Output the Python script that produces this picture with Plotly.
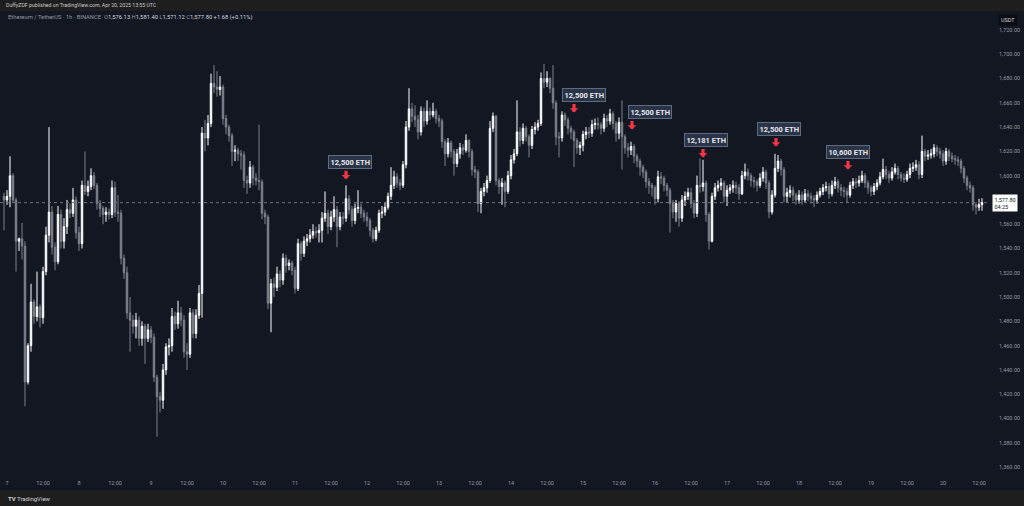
import pandas as pd
import plotly.graph_objects as go

# ---------------- data ----------------
first_open = 1583
# hourly closes, 2025-04-06 23:00 ... 2025-04-20 13:00 (UTC)
close = [1580,
    1583, 1600, 1580, 1546, 1548, 1542, 1430, 1460, 1496, 1484, 1492, 1483, 1521, 1551, 1570, 1541, 1529, 1568, 1546, 1558, 1572, 1569, 1580, 1553,
    1544, 1592, 1587, 1591, 1600, 1592, 1577, 1573, 1568, 1570, 1568, 1590, 1570, 1569, 1532, 1520, 1487, 1481, 1476, 1481, 1466, 1476, 1466, 1473,
    1467, 1434, 1418, 1415, 1440, 1459, 1460, 1484, 1478, 1487, 1481, 1455, 1453, 1487, 1470, 1485, 1503, 1635, 1631, 1643, 1676, 1673, 1671, 1673,
    1647, 1640, 1633, 1620, 1621, 1618, 1617, 1596, 1594, 1607, 1598, 1596, 1595, 1569, 1566, 1495, 1511, 1508, 1519, 1514, 1532, 1526, 1528, 1522,
    1507, 1544, 1536, 1546, 1548, 1551, 1554, 1553, 1555, 1565, 1569, 1558, 1566, 1572, 1558, 1566, 1565, 1581, 1572, 1563, 1573, 1574, 1569, 1566,
    1563, 1555, 1548, 1555, 1569, 1570, 1574, 1583, 1592, 1599, 1594, 1592, 1609, 1640, 1655, 1649, 1646, 1636, 1653, 1645, 1653, 1650, 1653, 1647,
    1645, 1628, 1618, 1627, 1620, 1610, 1618, 1623, 1621, 1629, 1620, 1605, 1603, 1577, 1587, 1590, 1596, 1639, 1649, 1596, 1591, 1594, 1587, 1600,
    1613, 1618, 1636, 1629, 1639, 1632, 1625, 1638, 1640, 1643, 1680, 1677, 1680, 1672, 1660, 1632, 1631, 1650, 1646, 1639, 1636, 1629, 1623, 1625,
    1634, 1636, 1635, 1642, 1643, 1642, 1639, 1647, 1645, 1651, 1643, 1635, 1644, 1632, 1623, 1621, 1624, 1616, 1612, 1607, 1603, 1595, 1592, 1590,
    1581, 1599, 1598, 1592, 1588, 1577, 1570, 1577, 1565, 1580, 1583, 1586, 1577, 1569, 1592, 1591, 1594, 1568, 1546, 1583, 1590, 1592, 1594, 1583,
    1588, 1590, 1592, 1590, 1585, 1600, 1603, 1600, 1596, 1595, 1592, 1598, 1603, 1594, 1570, 1584, 1606, 1612, 1605, 1583, 1586, 1588, 1584, 1580,
    1584, 1580, 1585, 1583, 1581, 1580, 1584, 1587, 1590, 1591, 1585, 1592, 1595, 1590, 1588, 1587, 1584, 1592, 1595, 1594, 1596, 1600, 1594, 1590,
    1587, 1591, 1594, 1599, 1605, 1601, 1598, 1603, 1606, 1601, 1598, 1597, 1601, 1606, 1607, 1609, 1601, 1620, 1616, 1617, 1618, 1623, 1620, 1618,
    1612, 1620, 1616, 1614, 1613, 1612, 1606, 1598, 1592, 1590, 1576, 1574, 1576.13, 1577.80]

high = [1586,
    1588, 1616, 1602, 1582, 1549, 1561, 1546, 1462, 1511, 1498, 1521, 1494, 1525, 1558, 1640, 1575, 1545, 1575, 1572, 1565, 1580, 1577, 1590, 1583,
    1558, 1596, 1620, 1596, 1606, 1603, 1594, 1580, 1575, 1574, 1573, 1596, 1595, 1584, 1572, 1535, 1525, 1500, 1485, 1487, 1484, 1480, 1478, 1478,
    1476, 1470, 1436, 1422, 1445, 1462, 1466, 1491, 1488, 1497, 1492, 1485, 1462, 1491, 1490, 1490, 1510, 1640, 1646, 1650, 1684, 1691, 1686, 1682,
    1675, 1650, 1642, 1635, 1625, 1623, 1621, 1620, 1600, 1612, 1609, 1602, 1642, 1597, 1572, 1568, 1515, 1516, 1525, 1522, 1536, 1535, 1531, 1530,
    1525, 1548, 1546, 1550, 1552, 1556, 1560, 1558, 1560, 1570, 1587, 1572, 1571, 1583, 1575, 1570, 1570, 1592, 1584, 1575, 1577, 1588, 1577, 1572,
    1570, 1565, 1557, 1558, 1572, 1575, 1578, 1586, 1607, 1604, 1602, 1597, 1612, 1645, 1672, 1660, 1658, 1650, 1657, 1656, 1662, 1656, 1660, 1655,
    1650, 1647, 1630, 1631, 1629, 1622, 1622, 1627, 1626, 1634, 1630, 1622, 1608, 1605, 1590, 1594, 1600, 1645, 1652, 1650, 1598, 1598, 1596, 1604,
    1617, 1622, 1662, 1640, 1643, 1641, 1634, 1641, 1644, 1646, 1685, 1692, 1686, 1681, 1691, 1662, 1636, 1653, 1652, 1648, 1641, 1638, 1631, 1628,
    1637, 1640, 1640, 1646, 1647, 1648, 1644, 1651, 1650, 1655, 1653, 1645, 1648, 1662, 1634, 1627, 1628, 1626, 1618, 1614, 1609, 1605, 1598, 1594,
    1592, 1604, 1603, 1600, 1594, 1590, 1580, 1580, 1579, 1584, 1587, 1590, 1590, 1580, 1600, 1614, 1613, 1596, 1570, 1586, 1594, 1596, 1598, 1596,
    1592, 1593, 1596, 1595, 1593, 1604, 1610, 1606, 1602, 1599, 1597, 1602, 1607, 1605, 1596, 1588, 1618, 1617, 1614, 1607, 1590, 1592, 1591, 1586,
    1588, 1587, 1589, 1588, 1586, 1584, 1587, 1590, 1593, 1595, 1594, 1596, 1599, 1597, 1593, 1591, 1590, 1595, 1598, 1598, 1600, 1604, 1602, 1596,
    1592, 1594, 1597, 1603, 1614, 1608, 1604, 1607, 1610, 1608, 1603, 1602, 1604, 1610, 1611, 1613, 1612, 1633, 1622, 1621, 1622, 1626, 1625, 1623,
    1621, 1623, 1622, 1619, 1617, 1616, 1614, 1608, 1600, 1595, 1592, 1578, 1581, 1581.40]

low = [1555,
    1576, 1574, 1578, 1521, 1538, 1531, 1410, 1428, 1455, 1478, 1480, 1475, 1478, 1518, 1545, 1535, 1522, 1527, 1540, 1540, 1552, 1565, 1566, 1548,
    1538, 1540, 1584, 1583, 1588, 1589, 1572, 1566, 1560, 1562, 1564, 1565, 1566, 1562, 1527, 1515, 1482, 1455, 1470, 1466, 1460, 1460, 1445, 1463,
    1462, 1430, 1385, 1405, 1408, 1436, 1452, 1455, 1473, 1474, 1476, 1450, 1440, 1450, 1466, 1466, 1482, 1483, 1620, 1625, 1640, 1668, 1665, 1666,
    1642, 1634, 1628, 1608, 1612, 1612, 1605, 1590, 1585, 1590, 1592, 1592, 1588, 1564, 1560, 1490, 1471, 1500, 1505, 1508, 1510, 1520, 1522, 1518,
    1503, 1505, 1530, 1533, 1542, 1545, 1548, 1549, 1545, 1545, 1562, 1552, 1555, 1562, 1541, 1555, 1560, 1562, 1568, 1558, 1560, 1569, 1565, 1562,
    1558, 1550, 1545, 1546, 1553, 1565, 1567, 1572, 1580, 1589, 1590, 1588, 1590, 1606, 1637, 1644, 1640, 1630, 1633, 1640, 1642, 1646, 1648, 1643,
    1640, 1623, 1608, 1615, 1615, 1600, 1607, 1614, 1617, 1619, 1615, 1600, 1598, 1570, 1569, 1583, 1586, 1594, 1636, 1592, 1585, 1576, 1574, 1585,
    1597, 1610, 1616, 1624, 1626, 1628, 1615, 1622, 1634, 1637, 1641, 1672, 1673, 1668, 1655, 1625, 1615, 1628, 1641, 1634, 1630, 1607, 1618, 1617,
    1620, 1630, 1631, 1632, 1638, 1638, 1634, 1636, 1640, 1642, 1638, 1628, 1630, 1605, 1618, 1615, 1617, 1610, 1607, 1600, 1598, 1590, 1585, 1583,
    1576, 1578, 1593, 1587, 1583, 1553, 1565, 1562, 1558, 1562, 1575, 1580, 1573, 1565, 1566, 1586, 1587, 1562, 1539, 1545, 1580, 1587, 1588, 1578,
    1575, 1585, 1586, 1585, 1580, 1584, 1597, 1596, 1591, 1590, 1587, 1590, 1595, 1589, 1565, 1568, 1582, 1603, 1600, 1578, 1578, 1582, 1579, 1576,
    1577, 1576, 1578, 1579, 1577, 1574, 1577, 1582, 1584, 1587, 1581, 1583, 1589, 1586, 1583, 1582, 1578, 1582, 1589, 1590, 1591, 1594, 1590, 1585,
    1583, 1584, 1588, 1592, 1597, 1597, 1594, 1596, 1601, 1597, 1595, 1594, 1595, 1598, 1603, 1604, 1597, 1598, 1612, 1613, 1614, 1615, 1616, 1614,
    1608, 1609, 1612, 1611, 1609, 1608, 1602, 1594, 1588, 1586, 1571, 1568, 1571, 1571.12]

open_ = [first_open] + close[:-1]
times = pd.date_range("2025-04-06 23:00", periods=len(close), freq="h")

x_tick_labels = ["7", "12:00", "8", "12:00", "9", "12:00", "10", "12:00", "11", "12:00",
                 "12", "12:00", "13", "12:00", "14", "12:00", "15", "12:00", "16", "12:00",
                 "17", "12:00", "18", "12:00", "19", "12:00", "20", "12:00"]
x_tick_vals = pd.date_range("2025-04-07 00:00", periods=len(x_tick_labels), freq="12h")
# 1,580.00 sits behind the last-price label in the reference, so it is not listed
price_ticks = [1360, 1380, 1400, 1420, 1440, 1460, 1480, 1500, 1520, 1540,
               1560, 1600, 1620, 1640, 1660, 1680, 1700, 1720]

flow_labels = ["12,500 ETH", "12,500 ETH", "12,500 ETH", "12,181 ETH", "12,500 ETH", "10,600 ETH"]
flow_times = ["2025-04-11 17:00", "2025-04-14 21:00", "2025-04-15 16:20",
              "2025-04-16 16:00", "2025-04-17 16:20", "2025-04-18 16:20"]
flow_levels = [1597, 1652, 1638, 1615, 1624, 1605]

last_price = 1577.80
header = "DuffyZDF published on TradingView.com, Apr 20, 2025 13:55 UTC"
legend_line = ("Ethereum / TetherUS · 1h · BINANCE  "
               "O<span style='color:#d1d4dc'>1,576.13</span> "
               "H<span style='color:#d1d4dc'>1,581.40</span> "
               "L<span style='color:#d1d4dc'>1,571.12</span> "
               "C<span style='color:#d1d4dc'>1,577.80</span> "
               "<span style='color:#d1d4dc'>+1.68 (+0.11%)</span>")

# ---------------- figure ----------------
BG = "#131722"
BAND = "#1e1e1e"
TXT = "#9598a1"
FONT = "Roboto"

fig = go.Figure()
fig.add_trace(go.Candlestick(
    x=times, open=open_, high=high, low=low, close=close,
    increasing=dict(line=dict(color="#ffffff", width=1), fillcolor="#ffffff"),
    decreasing=dict(line=dict(color="#7e828c", width=1), fillcolor="#7e828c"),
    whiskerwidth=0, showlegend=False, hoverinfo="skip",
))

W, H = 1024, 506
ml, mr, mt, mb = 0, 34, 11, 28
pw, ph = W - ml - mr, H - mt - mb

shapes = [
    # header band
    dict(type="rect", xref="paper", yref="paper", x0=-0.01, x1=1 + mr / pw + 0.01,
         y0=1, y1=1 + mt / ph + 0.01, fillcolor=BAND, line_width=0, layer="below"),
    # footer band
    dict(type="rect", xref="paper", yref="paper", x0=-0.01, x1=1 + mr / pw + 0.01,
         y0=-(mb + 2) / ph, y1=-(mb - 16) / ph, fillcolor=BAND, line_width=0, layer="below"),
    # last price line
    dict(type="line", xref="paper", yref="y", x0=0, x1=1, y0=last_price, y1=last_price,
         line=dict(color="#70737d", width=1, dash="dot")),
]

annotations = []
box_dx = [3.5, 10, 17.5, 3, 2.5, 0]
for lab, t, lv, dx in zip(flow_labels, flow_times, flow_levels, box_dx):
    annotations.append(dict(x=t, y=lv, xref="x", yref="y", text="", showarrow=True,
                            ax=0, ay=-10, arrowhead=1, arrowsize=0.45, arrowwidth=3.2,
                            arrowcolor="#f23645"))
    annotations.append(dict(x=t, y=lv, xref="x", yref="y", text="<b>%s</b>" % lab,
                            showarrow=False, yshift=17.5, xshift=dx,
                            bgcolor="#2a3446", bordercolor="#5d6b80", borderwidth=1, borderpad=1.5,
                            font=dict(family=FONT, size=7.5, color="#e6e8ee")))

annotations += [
    dict(xref="paper", yref="paper", x=0, y=1, xanchor="left", yanchor="bottom",
         xshift=4, yshift=0.5, text=header, showarrow=False,
         font=dict(family=FONT, size=5.2, color="#c8cad0")),
    dict(xref="paper", yref="paper", x=0, y=1, xanchor="left", yanchor="top",
         xshift=6, yshift=-1, text=legend_line, showarrow=False,
         font=dict(family=FONT, size=5.8, color=TXT)),
    dict(xref="paper", yref="paper", x=1, y=1, xanchor="left", yanchor="top",
         xshift=8, yshift=-3, text="USDT", showarrow=False, bgcolor="#0b0d12",
         borderpad=2, font=dict(family=FONT, size=5.5, color="#d1d4dc")),
    dict(xref="paper", yref="y", x=1, y=last_price, xanchor="left", yanchor="middle",
         xshift=2, text="1,577.80<br>04:25", showarrow=False, align="left",
         bgcolor="#ffffff", borderpad=1.5, font=dict(family=FONT, size=5.5, color="#131722")),
    dict(xref="paper", yref="paper", x=0, y=-(mb - 8) / ph, xanchor="left", yanchor="middle",
         xshift=6, text="<b>TV</b> TradingView", showarrow=False,
         font=dict(family=FONT, size=6, color="#d1d4dc")),
]

fig.update_layout(
    width=W, height=H,
    margin=dict(l=ml, r=mr, t=mt, b=mb),
    paper_bgcolor=BG, plot_bgcolor=BG,
    shapes=shapes, annotations=annotations,
    font=dict(family=FONT, color=TXT),
    xaxis=dict(range=["2025-04-06 21:40", "2025-04-20 15:40"], rangeslider=dict(visible=False),
               tickmode="array", tickvals=x_tick_vals, ticktext=x_tick_labels,
               showgrid=False, zeroline=False, showline=False, ticks="",
               tickfont=dict(family=FONT, size=5.5, color=TXT)),
    yaxis=dict(range=[1351.0, 1735.6], side="right", tickmode="array", tickvals=price_ticks,
               tickformat=",.2f", showgrid=False, zeroline=False, showline=False, ticks="",
               ticklabelstandoff=8, tickfont=dict(family=FONT, size=5.5, color=TXT)),
    hovermode=False,
)

fig.write_html("out.html", config={"displayModeBar": False},
               post_script="document.body.style.margin='0';document.body.style.overflow='hidden';")
